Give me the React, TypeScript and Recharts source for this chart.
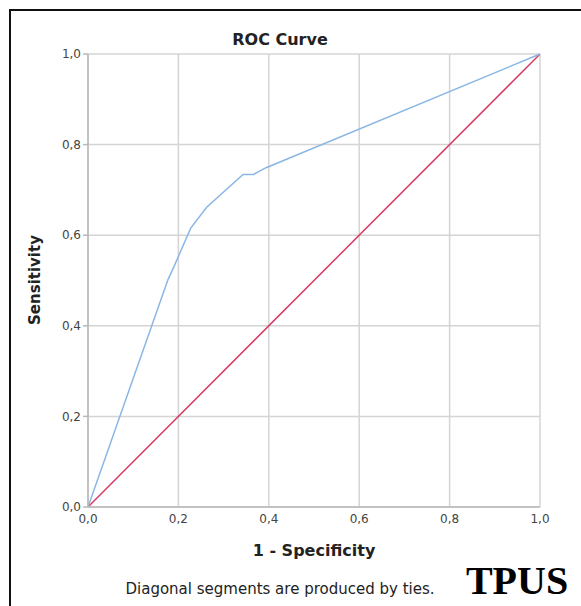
import React from 'react'
import { LineChart, Line, XAxis, YAxis, CartesianGrid } from 'recharts'

// ROC curve points (1 - specificity, sensitivity)
const rocX = [0, 0.177, 0.19, 0.203, 0.227, 0.262, 0.343, 0.366, 0.394, 1]
const rocY = [0, 0.502, 0.53, 0.56, 0.615, 0.661, 0.734, 0.734, 0.749, 1]
const refX = [0, 1]
const refY = [0, 1]
const ticks = [0, 0.2, 0.4, 0.6, 0.8, 1]

const rocData = rocX.map((x, i) => ({ x, y: rocY[i] }))
const refData = refX.map((x, i) => ({ x, y: refY[i] }))

const fmt = (v: number) => v.toFixed(1).replace('.', ',')
const font = '"DejaVu Sans", "Open Sans", sans-serif'

export default function App() {
  return (
    <div style={{ position: 'absolute', left: 0, top: 0, width: 581, height: 606, background: '#fff', fontFamily: font }}>
      {/* frame */}
      <div style={{ position: 'absolute', left: 9, top: 9, width: 600, height: 620, borderTop: '2px solid #111', borderLeft: '2px solid #111' }} />
      <LineChart
        width={581}
        height={606}
        margin={{ top: 54, right: 41, bottom: 69, left: 58 }}
        style={{ position: 'absolute', left: 0, top: 0 }}
      >
        <CartesianGrid stroke="#d4d4d4" strokeWidth={1.5} />
        <XAxis
          type="number"
          dataKey="x"
          domain={[0, 1]}
          ticks={ticks}
          tickFormatter={fmt}
          height={30}
          stroke="#b8b8b8"
          strokeWidth={1.5}
          tickLine={false}
          tickSize={5}
          tick={{ fill: '#444', fontSize: 12, fontFamily: font }}
        />
        <YAxis
          type="number"
          dataKey="y"
          domain={[0, 1]}
          ticks={ticks}
          tickFormatter={fmt}
          width={30}
          stroke="#b8b8b8"
          strokeWidth={1.5}
          tickSize={5}
          tick={{ fill: '#444', fontSize: 12, fontFamily: font }}
        />
        <Line
          data={refData}
          dataKey="y"
          type="linear"
          stroke="#d93a62"
          strokeWidth={1.5}
          dot={false}
          isAnimationActive={false}
        />
        <Line
          data={rocData}
          dataKey="y"
          type="linear"
          stroke="#8ab6e6"
          strokeWidth={1.5}
          dot={false}
          isAnimationActive={false}
        />
      </LineChart>
      <div style={{ position: 'absolute', left: 180, width: 200, top: 30, textAlign: 'center', fontSize: 16, fontWeight: 700, color: '#222' }}>
        ROC Curve
      </div>
      <div style={{ position: 'absolute', left: 35, top: 280, transform: 'translate(-50%, -50%) rotate(-90deg)', fontSize: 15, fontWeight: 700, color: '#222', whiteSpace: 'nowrap' }}>
        Sensitivity
      </div>
      <div style={{ position: 'absolute', left: 214, width: 200, top: 541, textAlign: 'center', fontSize: 16, fontWeight: 700, color: '#222' }}>
        1 - Specificity
      </div>
      <div style={{ position: 'absolute', left: 80, width: 400, top: 580, textAlign: 'center', fontSize: 15, color: '#222' }}>
        Diagonal segments are produced by ties.
      </div>
      <div style={{ position: 'absolute', left: 462, width: 110, top: 557, textAlign: 'center', fontSize: 40, fontWeight: 700, fontFamily: '"Liberation Serif", "Times New Roman", serif', color: '#000' }}>
        TPUS
      </div>
    </div>
  )
}
